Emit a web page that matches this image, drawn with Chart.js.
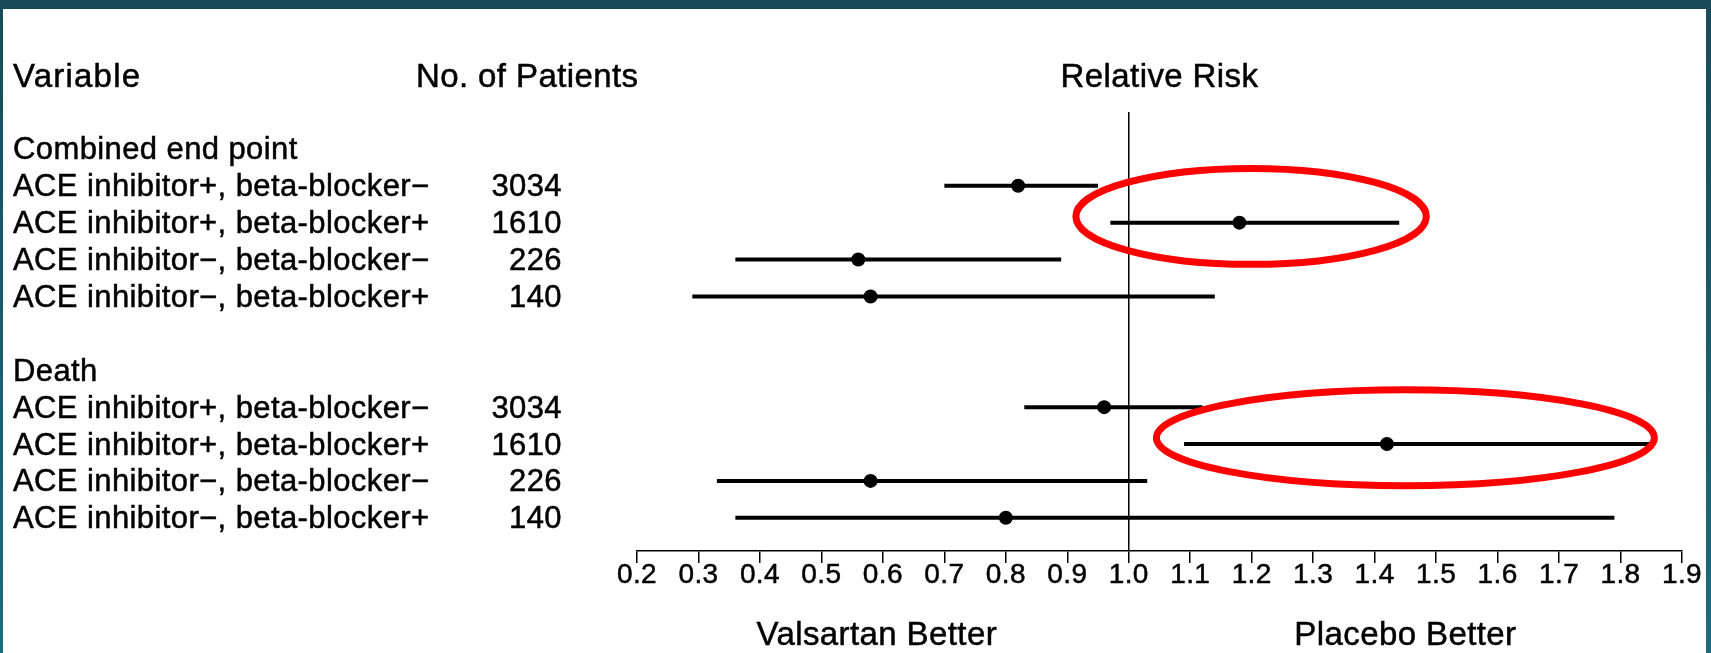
<!DOCTYPE html>
<html>
<head>
<meta charset="utf-8">
<script src="https://cdn.jsdelivr.net/npm/chart.js@4.4.1/dist/chart.umd.min.js"></script>
<style>
  html, body { margin: 0; padding: 0; }
  body { width: 1711px; height: 653px; overflow: hidden; position: relative;
         background: linear-gradient(#174b59, #1f6b7c); }
  #panel { position: absolute; left: 3px; top: 9px; width: 1703px; height: 644px; background: #fff; }
  #wrap { position: absolute; left: 0; top: 0; width: 1711px; height: 653px; }
</style>
</head>
<body>
<div id="panel"></div>
<div id="wrap"><canvas id="forestChart" width="1711" height="653"></canvas></div>
<script>
// rows and groups
const rowLabels = [
  'ACE inhibitor+, beta-blocker\u2212',
  'ACE inhibitor+, beta-blocker+',
  'ACE inhibitor\u2212, beta-blocker\u2212',
  'ACE inhibitor\u2212, beta-blocker+'
];
const groupTitles = ['Combined end point', 'Death'];
const patients = [3034, 1610, 226, 140];

// relative risk with 95% CI
const combinedRR = [0.82, 1.18, 0.56, 0.58];
const combinedLo = [0.70, 0.97, 0.36, 0.29];
const combinedHi = [0.95, 1.44, 0.89, 1.14];
const deathRR = [0.96, 1.42, 0.58, 0.80];
const deathLo = [0.83, 1.09, 0.33, 0.36];
const deathHi = [1.12, 1.85, 1.03, 1.79];

// x axis
const xMin = 0.2;
const xMax = 1.9;
const xStep = 0.1;
const refValue = 1.0;

// highlighted rows (red rings) : group, row, x extent
const highlights = [
  { group: 0, row: 1, from: 0.914, to: 1.484 },
  { group: 1, row: 1, from: 1.045, to: 1.855 }
];

const FONT = '"Liberation Sans", Arial, sans-serif';
const INK = '#000';
const SPACING = '0.4px';
const Y_MAX = 11.9;

const series = [
  { rr: combinedRR, lo: combinedLo, hi: combinedHi },
  { rr: deathRR, lo: deathLo, hi: deathHi }
];
const headerSlot = (g) => 1 + g * 6;
const rowSlot = (g, i) => headerSlot(g) + 1 + i;

// one line per confidence interval
const ciSets = [];
series.forEach((s, g) => {
  s.rr.forEach((_, i) => {
    ciSets.push({
      data: [{ x: s.lo[i], y: rowSlot(g, i) }, { x: s.hi[i], y: rowSlot(g, i) }],
      showLine: true,
      borderColor: '#000',
      borderWidth: 4,
      borderCapStyle: 'butt',
      pointRadius: 0
    });
  });
});

const pointData = [];
series.forEach((s, g) => s.rr.forEach((v, i) => pointData.push({ x: v, y: rowSlot(g, i) })));

function text(ctx, str, x, y) {
  ctx.fillText(str, x, y);
  ctx.strokeText(str, x, y);
}

const labelsPlugin = {
  id: 'forestText',
  beforeLayout(chart) { chart.ctx.letterSpacing = SPACING; },
  beforeDraw(chart) { chart.ctx.letterSpacing = SPACING; },
  afterDraw(chart) {
    const ctx = chart.ctx;
    const xs = chart.scales.x, ys = chart.scales.y;
    const area = chart.chartArea;
    ctx.save();
    ctx.letterSpacing = SPACING;
    ctx.fillStyle = INK;
    ctx.strokeStyle = INK;
    ctx.lineWidth = 0.5;
    ctx.textBaseline = 'middle';

    // column headers
    ctx.font = '33px ' + FONT;
    const hy = ys.getPixelForValue(-1) + 3;
    ctx.textAlign = 'left';
    ctx.save();
    ctx.letterSpacing = '1.2px';
    text(ctx, 'Variable', 13, hy);
    ctx.restore();
    text(ctx, 'No. of Patients', 416, hy);
    ctx.textAlign = 'center';
    text(ctx, 'Relative Risk', (area.left + area.right) / 2, hy);

    // groups and rows
    ctx.font = '31px ' + FONT;
    groupTitles.forEach((t, g) => {
      ctx.textAlign = 'left';
      text(ctx, t, 13, ys.getPixelForValue(headerSlot(g)) + 2);
      rowLabels.forEach((lab, i) => {
        const y = ys.getPixelForValue(rowSlot(g, i)) + 2;
        ctx.textAlign = 'left';
        text(ctx, lab, 13, y);
        ctx.textAlign = 'right';
        text(ctx, String(patients[i]), 562, y);
      });
    });

    // bottom captions
    ctx.font = '33px ' + FONT;
    ctx.textAlign = 'center';
    text(ctx, 'Valsartan Better', xs.getPixelForValue(0.59), 636);
    text(ctx, 'Placebo Better', xs.getPixelForValue(1.45), 636);

    // red rings
    const slotPx = Math.abs(ys.getPixelForValue(1) - ys.getPixelForValue(0));
    ctx.strokeStyle = '#ff0000';
    ctx.lineWidth = 7;
    highlights.forEach(h => {
      const x0 = xs.getPixelForValue(h.from), x1 = xs.getPixelForValue(h.to);
      const cy = ys.getPixelForValue(rowSlot(h.group, h.row) - 0.17);
      ctx.beginPath();
      ctx.ellipse((x0 + x1) / 2, cy, (x1 - x0) / 2, slotPx * 1.3, 0, 0, Math.PI * 2);
      ctx.stroke();
    });
    ctx.restore();
  }
};

new Chart(document.getElementById('forestChart'), {
  type: 'scatter',
  data: {
    datasets: [
      {
        data: [{ x: refValue, y: 0 }, { x: refValue, y: Y_MAX }],
        showLine: true,
        borderColor: '#000',
        borderWidth: 1.5,
        pointRadius: 0
      },
      ...ciSets,
      {
        data: pointData,
        pointRadius: 7,
        pointHoverRadius: 7,
        backgroundColor: '#000',
        borderWidth: 0
      }
    ]
  },
  options: {
    responsive: false,
    devicePixelRatio: 1,
    animation: false,
    layout: { padding: { left: 637, right: 29, top: 112, bottom: 0 } },
    plugins: { legend: { display: false }, tooltip: { enabled: false } },
    scales: {
      x: {
        type: 'linear',
        min: xMin,
        max: xMax,
        afterFit(scale) { scale.height = 102; },
        border: { display: true, color: '#000', width: 1.5 },
        grid: { drawOnChartArea: false, drawTicks: true, tickLength: 12, color: '#000', lineWidth: 1.5 },
        ticks: {
          stepSize: xStep,
          autoSkip: false,
          maxRotation: 0,
          padding: -5,
          color: INK,
          textStrokeColor: INK,
          textStrokeWidth: 0.5,
          font: { family: FONT, size: 28 },
          callback: (v) => Number(v).toFixed(1)
        }
      },
      y: { type: 'linear', min: 0, max: Y_MAX, reverse: true, display: false }
    }
  },
  plugins: [labelsPlugin]
});
</script>
</body>
</html>
